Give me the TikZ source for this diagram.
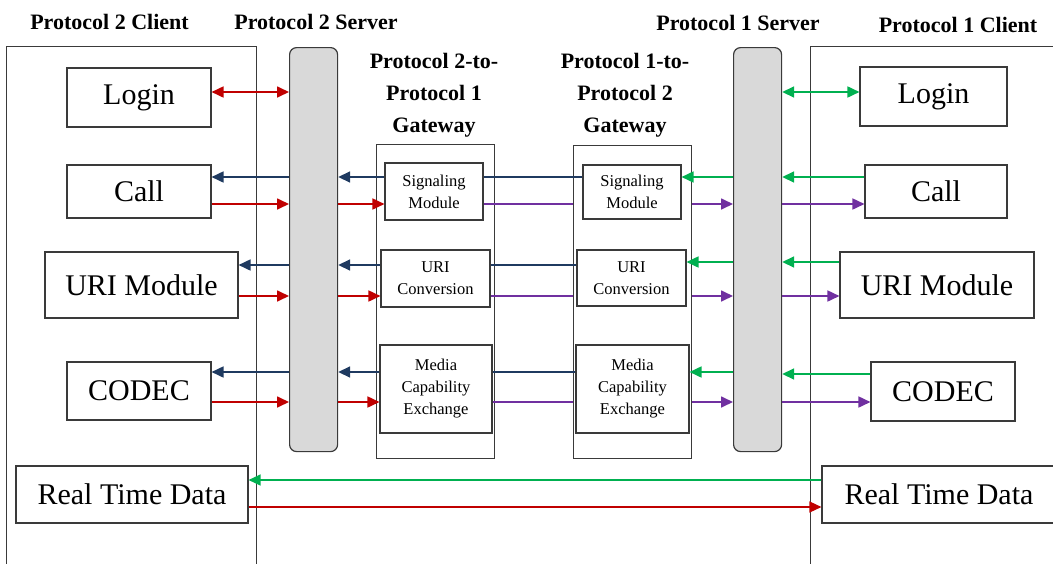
\documentclass[tikz,border=0pt]{standalone}
\usepackage{fontspec}
\setmainfont{Liberation Serif}
\usetikzlibrary{arrows.meta}

\definecolor{navyarr}{HTML}{1F3A60}
\definecolor{redarr}{HTML}{C00000}
\definecolor{greenarr}{HTML}{00B050}
\definecolor{purplearr}{HTML}{7030A0}
\definecolor{framegray}{HTML}{3A3A3A}
\definecolor{barfill}{HTML}{D9D9D9}

\begin{document}
\begin{tikzpicture}[x=1pt,y=-1pt,
  box/.style={draw=framegray, line width=1.1pt, fill=white, inner sep=0pt, align=center},
  bigbox/.style={box, font=\fontsize{30}{32}\selectfont},
  modbox/.style={box, font=\fontsize{16.5}{22}\selectfont},
  panel/.style={draw=framegray, line width=1.1pt, inner sep=0pt},
  head/.style={font=\fontsize{22}{32}\selectfont\bfseries, inner sep=0pt, align=center},
  serverbar/.style={draw=framegray, line width=1.2pt, fill=barfill, rounded corners=7pt, inner sep=0pt},
  tip/.tip={Triangle[length=12pt,width=11pt]},
  flow/.style={line width=1.7pt, -tip},
  both/.style={line width=1.7pt, tip-tip},
  link/.style={line width=1.5pt},
  rtd/.style={line width=1.4pt, -tip}
]
\useasboundingbox (0,0) rectangle (1053,563);

% client frames (open towards the bottom edge)
\node[panel, minimum width=250pt, minimum height=540pt, anchor=north west] (clientL) at (6,46) {};
\node[panel, minimum width=260pt, minimum height=540pt, anchor=north west] (clientR) at (810,46) {};

% column headings
\node[head, anchor=base] (hL2c) at (109.5,29.7) {Protocol 2 Client};
\node[head, anchor=base] (hL2s) at (316,29.7) {Protocol 2 Server};
\node[head, anchor=base] (hR1s) at (738,30.4) {Protocol 1 Server};
\node[head, anchor=base] (hR1c) at (958,32) {Protocol 1 Client};
\node[head] (hG21) at (434,95) {Protocol 2-to-\\Protocol 1\\Gateway};
\node[head] (hG12) at (625,95) {Protocol 1-to-\\Protocol 2\\Gateway};

% servers
\node[serverbar, minimum width=48pt, minimum height=404pt, anchor=north west] (S2) at (289,47) {};
\node[serverbar, minimum width=48pt, minimum height=404pt, anchor=north west] (S1) at (733,47) {};

% gateways
\node[box, fill=none, minimum width=118pt, minimum height=314pt, anchor=north west] (G21) at (376,144) {};
\node[box, fill=none, minimum width=118pt, minimum height=313pt, anchor=north west] (G12) at (573,145) {};

\node[modbox, minimum width=98pt, minimum height=57pt] (G21sig) at (434,191.5) {Signaling\\Module};
\node[modbox, minimum width=109pt, minimum height=57pt] (G21uri) at (435.5,278.5) {URI\\Conversion};
\node[modbox, minimum width=112pt, minimum height=88pt] (G21med) at (436,389) {Media\\Capability\\Exchange};

\node[modbox, minimum width=98pt, minimum height=54pt] (G12sig) at (632,192) {Signaling\\Module};
\node[modbox, minimum width=109pt, minimum height=56pt] (G12uri) at (631.5,278) {URI\\Conversion};
\node[modbox, minimum width=113pt, minimum height=88pt] (G12med) at (632.5,389) {Media\\Capability\\Exchange};

% Protocol 2 client modules
\node[bigbox, minimum width=144pt, minimum height=59pt] (L2login) at (139,97.5) {Login};
\node[bigbox, minimum width=144pt, minimum height=53pt] (L2call) at (139,191.5) {Call};
\node[bigbox, minimum width=193pt, minimum height=66pt] (L2uri) at (141.5,285) {URI Module};
\node[bigbox, minimum width=144pt, minimum height=58pt] (L2codec) at (139,391) {CODEC};
\node[bigbox, minimum width=232pt, minimum height=57pt] (L2rtd) at (132,494.5) {Real Time Data};

% Protocol 1 client modules
\node[bigbox, minimum width=147pt, minimum height=59pt] (R1login) at (933.5,96.5) {Login};
\node[bigbox, minimum width=142pt, minimum height=53pt] (R1call) at (936,191.5) {Call};
\node[bigbox, minimum width=194pt, minimum height=66pt] (R1uri) at (937,285) {URI Module};
\node[bigbox, minimum width=144pt, minimum height=59pt] (R1codec) at (943,391.5) {CODEC};
\node[bigbox, minimum width=234pt, minimum height=57pt] (R1rtd) at (939,494.5) {Real Time Data};

% signal rows
\coordinate (yLogin) at (0,92);
\coordinate (yCallIn) at (0,177);
\coordinate (yCallOut) at (0,204);
\coordinate (yUriIn) at (0,265);
\coordinate (yUriInR) at (0,262);
\coordinate (yUriOut) at (0,296);
\coordinate (yCodIn) at (0,372);
\coordinate (yCodInR) at (0,374);
\coordinate (yCodOut) at (0,402);
\coordinate (yRtdA) at (0,480);
\coordinate (yRtdB) at (0,507);

% login links
\draw[both, redarr] (L2login.east |- yLogin) -- (S2.west |- yLogin);
\draw[both, greenarr] (S1.east |- yLogin) -- (R1login.west |- yLogin);

% Protocol 2 client <-> Protocol 2 server
\draw[flow, navyarr] (S2.west |- yCallIn) -- (L2call.east |- yCallIn);
\draw[flow, redarr] (L2call.east |- yCallOut) -- (S2.west |- yCallOut);
\draw[flow, navyarr] (S2.west |- yUriIn) -- (L2uri.east |- yUriIn);
\draw[flow, redarr] (L2uri.east |- yUriOut) -- (S2.west |- yUriOut);
\draw[flow, navyarr] (S2.west |- yCodIn) -- (L2codec.east |- yCodIn);
\draw[flow, redarr] (L2codec.east |- yCodOut) -- (S2.west |- yCodOut);

% Protocol 2 server <-> 2-to-1 gateway
\draw[flow, navyarr] (G21sig.west |- yCallIn) -- (S2.east |- yCallIn);
\draw[flow, redarr] (S2.east |- yCallOut) -- (G21sig.west |- yCallOut);
\draw[flow, navyarr] (G21uri.west |- yUriIn) -- (S2.east |- yUriIn);
\draw[flow, redarr] (S2.east |- yUriOut) -- (G21uri.west |- yUriOut);
\draw[flow, navyarr] (G21med.west |- yCodIn) -- (S2.east |- yCodIn);
\draw[flow, redarr] (S2.east |- yCodOut) -- (G21med.west |- yCodOut);

% gateway <-> gateway
\draw[link, navyarr] (G12sig.west |- yCallIn) -- (G21sig.east |- yCallIn);
\draw[link, purplearr] (G21sig.east |- yCallOut) -- (G12.west |- yCallOut);
\draw[link, navyarr] (G12uri.west |- yUriIn) -- (G21uri.east |- yUriIn);
\draw[link, purplearr] (G21uri.east |- yUriOut) -- (G12.west |- yUriOut);
\draw[link, navyarr] (G12med.west |- yCodIn) -- (G21med.east |- yCodIn);
\draw[link, purplearr] (G21med.east |- yCodOut) -- (G12.west |- yCodOut);

% 1-to-2 gateway <-> Protocol 1 server
\draw[flow, greenarr] (S1.west |- yCallIn) -- (G12sig.east |- yCallIn);
\draw[flow, purplearr] (G12.east |- yCallOut) -- (S1.west |- yCallOut);
\draw[flow, greenarr] (S1.west |- yUriInR) -- (G12uri.east |- yUriInR);
\draw[flow, purplearr] (G12.east |- yUriOut) -- (S1.west |- yUriOut);
\draw[flow, greenarr] (S1.west |- yCodIn) -- (G12med.east |- yCodIn);
\draw[flow, purplearr] (G12.east |- yCodOut) -- (S1.west |- yCodOut);

% Protocol 1 server <-> Protocol 1 client
\draw[flow, greenarr] (R1call.west |- yCallIn) -- (S1.east |- yCallIn);
\draw[flow, purplearr] (S1.east |- yCallOut) -- (R1call.west |- yCallOut);
\draw[flow, greenarr] (R1uri.west |- yUriInR) -- (S1.east |- yUriInR);
\draw[flow, purplearr] (S1.east |- yUriOut) -- (R1uri.west |- yUriOut);
\draw[flow, greenarr] (R1codec.west |- yCodInR) -- (S1.east |- yCodInR);
\draw[flow, purplearr] (S1.east |- yCodOut) -- (R1codec.west |- yCodOut);

% real time data path
\draw[rtd, greenarr] (R1rtd.west |- yRtdA) -- (L2rtd.east |- yRtdA);
\draw[rtd, redarr] (L2rtd.east |- yRtdB) -- (R1rtd.west |- yRtdB);
\end{tikzpicture}
\end{document}
